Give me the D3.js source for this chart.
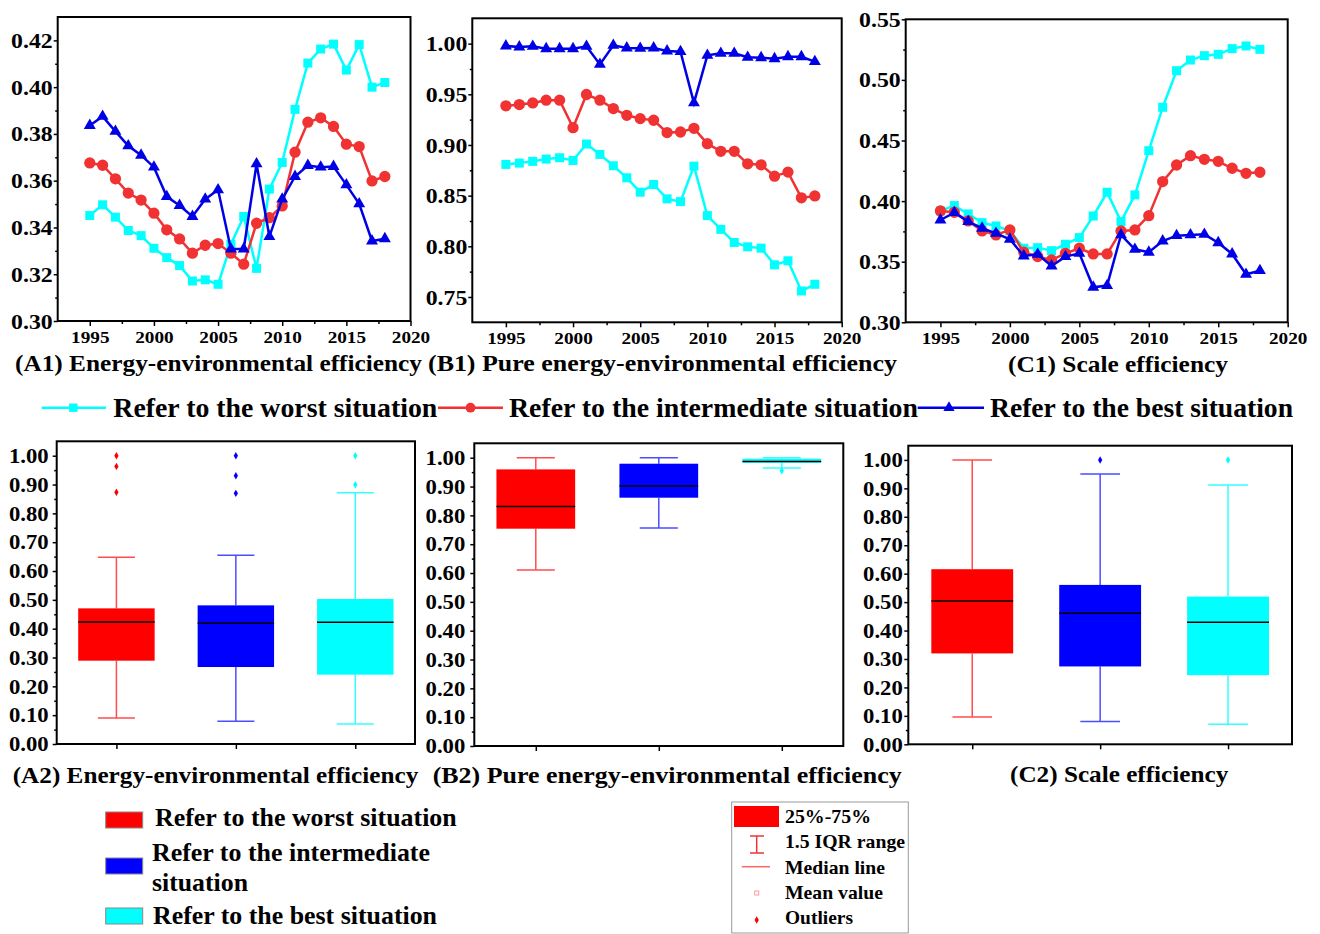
<!DOCTYPE html>
<html lang="en">
<head>
<meta charset="UTF-8">
<title>Energy-environmental efficiency</title>
<script src="https://cdn.jsdelivr.net/npm/d3@7"></script>
<style>
  body{margin:0;background:#fff;}
  text{font-family:"Liberation Serif","Times New Roman",serif;font-weight:bold;fill:#000;}
</style>
</head>
<body>
<svg id="chart" width="1320" height="934"></svg>
<script>
// ---- data ----
var years=[1995,1996,1997,1998,1999,2000,2001,2002,2003,2004,2005,2006,2007,2008,2009,2010,2011,2012,2013,2014,2015,2016,2017,2018];
var xTicks=[1995,2000,2005,2010,2015,2020];
var xMinor=[1997.5,2002.5,2007.5,2012.5,2017.5];

// (A1) energy-environmental efficiency
var a1Worst=[0.3451,0.3497,0.3444,0.3387,0.3365,0.3311,0.3271,0.3237,0.3171,0.3176,0.3157,0.3328,0.3447,0.3225,0.3564,0.3678,0.3905,0.4103,0.4163,0.4184,0.4073,0.4182,0.4000,0.4020];
var a1Mid=[0.3676,0.3666,0.3608,0.3547,0.3517,0.3461,0.3390,0.3351,0.3290,0.3324,0.3331,0.3290,0.3243,0.3418,0.3442,0.3492,0.3722,0.3850,0.3869,0.3832,0.3756,0.3746,0.3599,0.3618];
var a1Best=[0.3836,0.3875,0.3811,0.3749,0.3709,0.3658,0.3532,0.3494,0.3447,0.3521,0.3561,0.3308,0.3308,0.3672,0.3361,0.3521,0.3618,0.3665,0.3658,0.3661,0.3582,0.3501,0.3342,0.3352];
var a1YTicks=[0.30,0.32,0.34,0.36,0.38,0.40,0.42];
var a1YMinor=[0.31,0.33,0.35,0.37,0.39,0.41];

// (B1) pure energy-environmental efficiency
var b1Worst=[0.8808,0.8821,0.8838,0.8861,0.8874,0.8847,0.9009,0.8907,0.8795,0.8676,0.8534,0.8610,0.8468,0.8441,0.8791,0.8303,0.8167,0.8038,0.7995,0.7982,0.7817,0.7857,0.7559,0.7625];
var b1Mid=[0.9386,0.9399,0.9415,0.9442,0.9442,0.9171,0.9498,0.9442,0.9359,0.9293,0.9260,0.9244,0.9122,0.9128,0.9164,0.9013,0.8937,0.8937,0.8814,0.8804,0.8692,0.8732,0.8478,0.8497];
var b1Best=[0.9977,0.9967,0.9973,0.9950,0.9950,0.9950,0.9973,0.9795,0.9983,0.9957,0.9954,0.9957,0.9927,0.9921,0.9415,0.9884,0.9904,0.9904,0.9865,0.9861,0.9851,0.9871,0.9871,0.9822];
var b1YTicks=[0.75,0.80,0.85,0.90,0.95,1.00];
var b1YMinor=[0.775,0.825,0.875,0.925,0.975];

// (C1) scale efficiency
var c1Worst=[0.3919,0.3963,0.3894,0.3822,0.3795,0.3754,0.3611,0.3616,0.3591,0.3644,0.3699,0.3877,0.4073,0.3831,0.4051,0.4416,0.4774,0.5076,0.5164,0.5200,0.5211,0.5258,0.5280,0.5252];
var c1Mid=[0.3919,0.3908,0.3836,0.3754,0.3721,0.3762,0.3578,0.3542,0.3514,0.3569,0.3611,0.3564,0.3564,0.3754,0.3762,0.3880,0.4161,0.4298,0.4375,0.4345,0.4328,0.4271,0.4229,0.4238];
var c1Best=[0.3844,0.3905,0.3831,0.3776,0.3734,0.3685,0.3547,0.3561,0.3465,0.3542,0.3569,0.3289,0.3303,0.3721,0.3602,0.3578,0.3671,0.3715,0.3721,0.3726,0.3657,0.3564,0.3396,0.3426];
var c1YTicks=[0.30,0.35,0.40,0.45,0.50,0.55];
var c1YMinor=[0.325,0.375,0.425,0.475,0.525];

// box plots: worst, intermediate, best
var boxCats=["worst","intermediate","best"];
var boxYTicks=[0,0.1,0.2,0.3,0.4,0.5,0.6,0.7,0.8,0.9,1.0];
var boxYMinor=[0.05,0.15,0.25,0.35,0.45,0.55,0.65,0.75,0.85,0.95];

var a2Low=[0.0902,0.0786,0.0694], a2Q1=[0.289,0.267,0.2405], a2Med=[0.423,0.4185,0.422], a2Q3=[0.4705,0.4809,0.5029], a2High=[0.6474,0.6543,0.8717];
var a2Out=[[1.0,0.963,0.873],[1.0,0.9306,0.8694],[1.0,0.899]];
var b2Low=[0.6104,0.756,0.9642], b2Q1=[0.7538,0.8613,0.9827], b2Med=[0.8312,0.9017,0.9873], b2Q3=[0.9595,0.9792,0.9965], b2High=[1.0,1.0,1.0];
var b2Out=[[],[],[0.955]];
var c2Low=[0.0964,0.0799,0.0705], c2Q1=[0.3196,0.2738,0.2432], c2Med=[0.5041,0.4606,0.4289], c2Q3=[0.6157,0.5605,0.5194], c2High=[1.0,0.9507,0.9119];
var c2Out=[[],[1.0],[1.0]];

var lineNames=["Refer to the worst situation","Refer to the intermediate situation","Refer to the best situation"];

// ---- drawing ----
var svg=d3.select("#chart");
var cyan="#00ffff", red="#f03232", blue="#0000e6";
var boxFill=["#ff0000","#0000ff","#00ffff"];
var whiskerCol=["#ff4d4d","#4d4dff","#33ffff"];

// widen glyphs a bit, the source picture is stretched sideways
function stretch(sel,k){
  sel.each(function(){
    var w=this.getComputedTextLength();
    d3.select(this).attr("textLength",w*k).attr("lengthAdjust","spacingAndGlyphs");
  });
}
function label(x,y,str,size,len,anchor){
  var t=svg.append("text").attr("x",x).attr("y",y).attr("font-size",size).text(str);
  if(anchor) t.attr("text-anchor",anchor);
  if(len) t.attr("textLength",len).attr("lengthAdjust","spacingAndGlyphs");
  return t;
}
function styleAxis(g){
  g.select(".domain").remove();
  g.selectAll("line").attr("stroke","#000").attr("stroke-width",1.5);
}

function linePanel(p){
  var x=d3.scaleLinear().domain([1992.5,2020]).range([p.left,p.right]);
  var y=d3.scaleLinear().domain(p.yDomain).range([p.bottom,p.top]);
  var g=svg.append("g");
  var series=[
    {v:p.worst,c:cyan,sym:d3.symbolSquare,size:81},
    {v:p.mid,c:red,sym:d3.symbolCircle,size:100},
    {v:p.best,c:blue,sym:d3.symbolTriangle,size:62}
  ];
  series.forEach(function(s){
    g.append("path").datum(s.v).attr("fill","none").attr("stroke",s.c).attr("stroke-width",2.5)
      .attr("d",d3.line().x(function(d,j){return x(years[j]);}).y(function(d){return y(d);}));
    g.selectAll(null).data(s.v).enter().append("path")
      .attr("transform",function(d,j){return "translate("+x(years[j])+","+y(d)+")";})
      .attr("d",d3.symbol().type(s.sym).size(s.size)).attr("fill",s.c);
  });
  g.append("rect").attr("x",p.left).attr("y",p.top).attr("width",p.right-p.left).attr("height",p.bottom-p.top)
    .attr("fill","none").attr("stroke","#000").attr("stroke-width",2);
  var xa=g.append("g").attr("transform","translate(0,"+p.bottom+")")
    .call(d3.axisBottom(x).tickValues(xTicks).tickSize(5).tickPadding(5).tickFormat(d3.format("d")));
  styleAxis(xa);
  xa.selectAll("text").attr("font-size",17).call(stretch,1.13);
  styleAxis(g.append("g").attr("transform","translate(0,"+p.bottom+")")
    .call(d3.axisBottom(x).tickValues(xMinor).tickSize(3).tickFormat("")));
  var ya=g.append("g").attr("transform","translate("+p.left+",0)")
    .call(d3.axisLeft(y).tickValues(p.yTicks).tickSize(4).tickPadding(1).tickFormat(d3.format(".2f")));
  styleAxis(ya);
  ya.selectAll("text").attr("font-size",22).call(stretch,1.08);
  styleAxis(g.append("g").attr("transform","translate("+p.left+",0)")
    .call(d3.axisLeft(y).tickValues(p.yMinor).tickSize(2.5).tickFormat("")));
}

function boxPanel(p){
  var x=d3.scalePoint().domain(boxCats).range([p.left,p.right]).padding(0.5);
  var y=d3.scaleLinear().domain([0,1.05]).range([p.bottom,p.top]);
  var step=x.step(), bw=step*0.64, cw=step*0.31;
  var g=svg.append("g");
  boxCats.forEach(function(c,i){
    var cx=x(c);
    g.append("line").attr("x1",cx).attr("x2",cx).attr("y1",y(p.low[i])).attr("y2",y(p.q1[i]))
      .attr("stroke",whiskerCol[i]).attr("stroke-width",1.5);
    g.append("line").attr("x1",cx).attr("x2",cx).attr("y1",y(p.q3[i])).attr("y2",y(p.high[i]))
      .attr("stroke",whiskerCol[i]).attr("stroke-width",1.5);
    [p.low[i],p.high[i]].forEach(function(v){
      g.append("line").attr("x1",cx-cw/2).attr("x2",cx+cw/2).attr("y1",y(v)).attr("y2",y(v))
        .attr("stroke",whiskerCol[i]).attr("stroke-width",1.5);
    });
    g.append("rect").attr("x",cx-bw/2).attr("width",bw).attr("y",y(p.q3[i])).attr("height",y(p.q1[i])-y(p.q3[i]))
      .attr("fill",boxFill[i]);
    g.append("line").attr("x1",cx-bw/2).attr("x2",cx+bw/2).attr("y1",y(p.med[i])).attr("y2",y(p.med[i]))
      .attr("stroke","#000").attr("stroke-width",1.5);
    g.selectAll(null).data(p.out[i]).enter().append("path")
      .attr("transform",function(d){return "translate("+cx+","+y(d)+")";})
      .attr("d",d3.symbol().type(d3.symbolDiamond).size(16)).attr("fill",boxFill[i]);
  });
  g.append("rect").attr("x",p.left).attr("y",p.top).attr("width",p.right-p.left).attr("height",p.bottom-p.top)
    .attr("fill","none").attr("stroke","#000").attr("stroke-width",2);
  styleAxis(g.append("g").attr("transform","translate(0,"+p.bottom+")")
    .call(d3.axisBottom(x).tickSize(5).tickFormat("")));
  var ya=g.append("g").attr("transform","translate("+p.left+",0)")
    .call(d3.axisLeft(y).tickValues(boxYTicks).tickSize(4).tickPadding(p.pad).tickFormat(d3.format(".2f")));
  styleAxis(ya);
  ya.selectAll("text").attr("font-size",21).call(stretch,1.08);
  styleAxis(g.append("g").attr("transform","translate("+p.left+",0)")
    .call(d3.axisLeft(y).tickValues(boxYMinor).tickSize(2.5).tickFormat("")));
}

linePanel({left:57.7,right:410.5,top:17,bottom:321,yDomain:[0.30,0.43],yTicks:a1YTicks,yMinor:a1YMinor,worst:a1Worst,mid:a1Mid,best:a1Best});
linePanel({left:472.3,right:841.7,top:18.3,bottom:322.3,yDomain:[0.725,1.025],yTicks:b1YTicks,yMinor:b1YMinor,worst:b1Worst,mid:b1Mid,best:b1Best});
linePanel({left:905.7,right:1287.7,top:19.3,bottom:322.3,yDomain:[0.30,0.55],yTicks:c1YTicks,yMinor:c1YMinor,worst:c1Worst,mid:c1Mid,best:c1Best});

boxPanel({left:56.7,right:415,top:441.3,bottom:744,pad:4,low:a2Low,q1:a2Q1,med:a2Med,q3:a2Q3,high:a2High,out:a2Out});
boxPanel({left:474.3,right:843.3,top:443.3,bottom:746,pad:5,low:b2Low,q1:b2Q1,med:b2Med,q3:b2Q3,high:b2High,out:b2Out});
boxPanel({left:908.3,right:1292,top:445.7,bottom:744.3,pad:1.5,low:c2Low,q1:c2Q1,med:c2Med,q3:c2Q3,high:c2High,out:c2Out});

// captions
label(15,371,"(A1) Energy-environmental efficiency",23,407);
label(428,371,"(B1) Pure energy-environmental efficiency",23,469);
label(1008,372,"(C1) Scale efficiency",23,220);
label(12.7,783,"(A2) Energy-environmental efficiency",23,405.6);
label(432.7,783,"(B2) Pure energy-environmental efficiency",23,469);
label(1010,782,"(C2) Scale efficiency",23,218.3);

// legend of the line charts
var lg=[
  {x1:41.7,x2:106,m:73.3,tx:113.3,tw:324,c:cyan,sym:d3.symbolSquare,size:70},
  {x1:438,x2:503,m:470.5,tx:509,tw:409,c:red,sym:d3.symbolCircle,size:75},
  {x1:917.7,x2:984,m:949,tx:990,tw:303,c:blue,sym:d3.symbolTriangle,size:55}
];
lg.forEach(function(d,i){
  svg.append("line").attr("x1",d.x1).attr("x2",d.x2).attr("y1",407.7).attr("y2",407.7).attr("stroke",d.c).attr("stroke-width",2.5);
  svg.append("path").attr("transform","translate("+d.m+",407.7)").attr("d",d3.symbol().type(d.sym).size(d.size)).attr("fill",d.c);
  label(d.tx,417,lineNames[i],27,d.tw);
});

// legend of the box plots (colours)
var sw=[{y:812,h:16},{y:858,h:16},{y:908,h:16}];
sw.forEach(function(d,i){
  svg.append("rect").attr("x",105.7).attr("y",d.y).attr("width",37).attr("height",d.h)
    .attr("fill",boxFill[i]).attr("stroke","#888").attr("stroke-width",1);
});
label(155,826,"Refer to the worst situation",25,301.7);
label(152,861,"Refer to the intermediate",25,278);
label(152,891,"situation",25,96);
label(153,924,"Refer to the best situation",25,284);

// legend of the box plot parts
svg.append("rect").attr("x",731.7).attr("y",802).attr("width",176.6).attr("height",131)
  .attr("fill","none").attr("stroke","#999").attr("stroke-width",1);
svg.append("rect").attr("x",734).attr("y",806).attr("width",45).attr("height",21).attr("fill","#ff0000");
svg.append("line").attr("x1",756.7).attr("x2",756.7).attr("y1",836).attr("y2",853).attr("stroke",red).attr("stroke-width",1.5);
svg.append("line").attr("x1",750).attr("x2",764).attr("y1",836).attr("y2",836).attr("stroke",red).attr("stroke-width",1.5);
svg.append("line").attr("x1",750).attr("x2",764).attr("y1",853).attr("y2",853).attr("stroke",red).attr("stroke-width",1.5);
svg.append("line").attr("x1",741.7).attr("x2",770).attr("y1",866.7).attr("y2",866.7).attr("stroke","#f66").attr("stroke-width",1.5);
svg.append("rect").attr("x",754.7).attr("y",891).attr("width",4).attr("height",4).attr("fill","none").attr("stroke","#f99").attr("stroke-width",1);
svg.append("path").attr("transform","translate(756.7,920)").attr("d",d3.symbol().type(d3.symbolDiamond).size(16)).attr("fill","#ff0000");
label(785,823,"25%-75%",19,86);
label(785,848,"1.5 IQR range",19,120);
label(785,874,"Median line",19,100);
label(785,899,"Mean value",19,98);
label(785,924,"Outliers",19,68);
</script>
</body>
</html>
